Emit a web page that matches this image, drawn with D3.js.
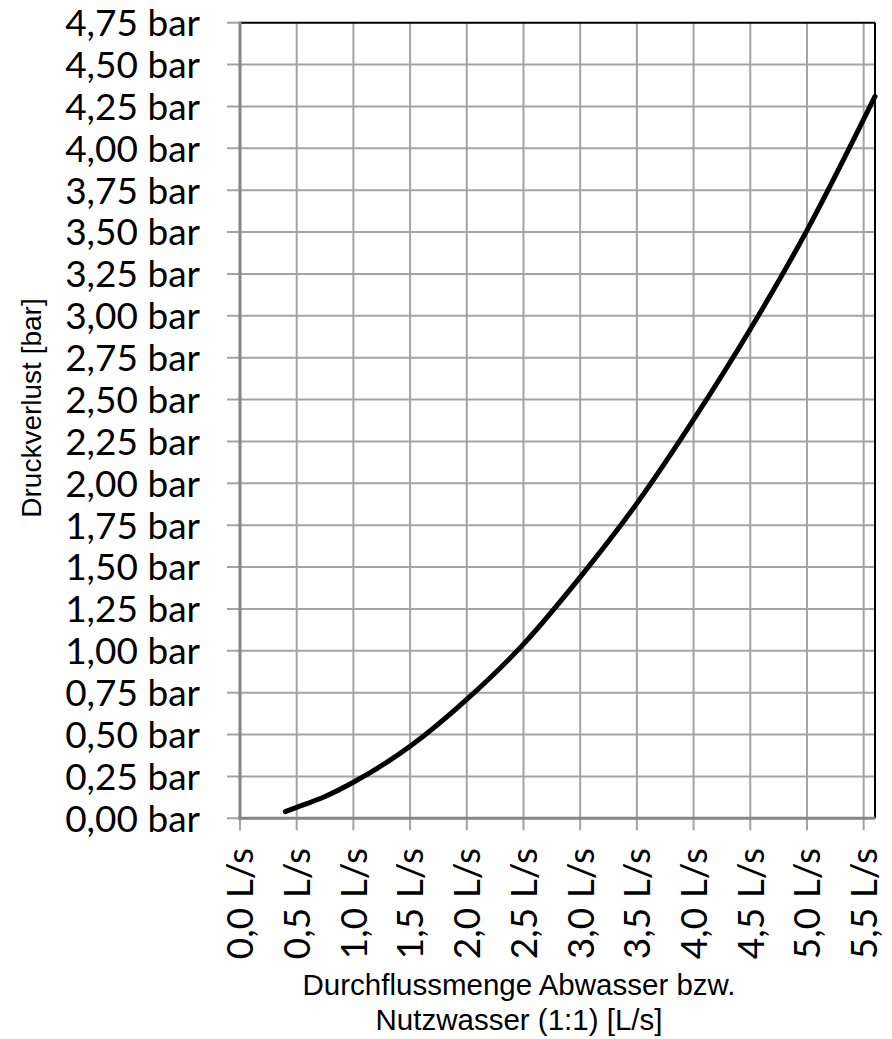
<!DOCTYPE html>
<html>
<head>
<meta charset="utf-8">
<script src="https://cdn.jsdelivr.net/npm/d3@7"></script>
<style>
  html, body { margin: 0; padding: 0; background: #fff; }
  svg { display: block; }
  .tick-label { font-family: Lato, "Open Sans", sans-serif; font-size: 37px; fill: #000; }
  .axis-title { font-family: "Liberation Sans", Arial, Helvetica, sans-serif; fill: #000; }
</style>
</head>
<body>
<svg id="chart" width="892" height="1039"></svg>
<script>
// Data
const flowValues = [0.4, 0.5, 0.75, 1.0, 1.5, 2.0, 2.5, 3.0, 3.5, 4.0, 4.5, 5.0, 5.6];
const pressureValues = [0.04, 0.065, 0.13, 0.215, 0.43, 0.71, 1.04, 1.44, 1.88, 2.38, 2.92, 3.51, 4.31];
const xTicks = [0.0, 0.5, 1.0, 1.5, 2.0, 2.5, 3.0, 3.5, 4.0, 4.5, 5.0, 5.5];
const yTicks = [0, 0.25, 0.5, 0.75, 1.0, 1.25, 1.5, 1.75, 2.0, 2.25, 2.5, 2.75, 3.0, 3.25, 3.5, 3.75, 4.0, 4.25, 4.5, 4.75];
const xTitleLines = ["Durchflussmenge Abwasser bzw.", "Nutzwasser (1:1) [L/s]"];
const yTitle = "Druckverlust [bar]";

(function () {
const svg = d3.select("#chart");
const pL = 240, pR = 875, pT = 22.7, pB = 818.3;

const x = d3.scaleLinear().domain([0, 5.6]).range([pL, pR]);
const y = d3.scaleLinear().domain([0, 4.75]).range([pB, pT]);

const loc = d3.formatLocale({decimal: ",", thousands: ".", grouping: [3], currency: ["", " €"]});
const fy = loc.format(".2f");
const fx = loc.format(".1f");

const gridCol = "#a3a3a3";

// Grid lines
svg.append("g").selectAll("line").data(xTicks.filter(d => d > 0)).join("line")
  .attr("x1", d => x(d)).attr("x2", d => x(d))
  .attr("y1", pT).attr("y2", pB + 12)
  .attr("stroke", gridCol).attr("stroke-width", 2);
svg.append("g").selectAll("line").data(yTicks.filter(d => d > 0 && d < 4.75)).join("line")
  .attr("x1", pL - 13).attr("x2", pR)
  .attr("y1", d => y(d)).attr("y2", d => y(d))
  .attr("stroke", gridCol).attr("stroke-width", 2);

// Tick marks at axis ends
svg.append("line").attr("x1", pL - 13).attr("x2", pL).attr("y1", y(4.75)).attr("y2", y(4.75))
  .attr("stroke", gridCol).attr("stroke-width", 2);
svg.append("line").attr("x1", pL - 13).attr("x2", pL).attr("y1", y(0)).attr("y2", y(0))
  .attr("stroke", gridCol).attr("stroke-width", 2);
svg.append("line").attr("x1", x(0)).attr("x2", x(0)).attr("y1", pB).attr("y2", pB + 12)
  .attr("stroke", gridCol).attr("stroke-width", 2);

// Top & right border (black)
svg.append("line").attr("x1", pL).attr("x2", pR).attr("y1", pT).attr("y2", pT)
  .attr("stroke", "#000").attr("stroke-width", 2);
svg.append("line").attr("x1", pR).attr("x2", pR).attr("y1", pT).attr("y2", pB)
  .attr("stroke", "#000").attr("stroke-width", 2);

// Left & bottom axis lines (grey, thicker)
svg.append("line").attr("x1", pL).attr("x2", pL).attr("y1", pT - 1).attr("y2", pB + 1.5)
  .attr("stroke", "#868686").attr("stroke-width", 3);
svg.append("line").attr("x1", pL - 1.5).attr("x2", pR).attr("y1", pB).attr("y2", pB)
  .attr("stroke", "#868686").attr("stroke-width", 3);

// Y tick labels
svg.append("g").selectAll("text").data(yTicks).join("text")
  .attr("class", "tick-label")
  .attr("x", 200).attr("y", d => y(d)).attr("dy", "0.36em")
  .attr("text-anchor", "end")
  .text(d => fy(d) + " bar");

// X tick labels (rotated)
svg.append("g").selectAll("text").data(xTicks).join("text")
  .attr("class", "tick-label")
  .attr("transform", d => `translate(${x(d)},848) rotate(-90)`)
  .attr("dy", "0.36em")
  .attr("text-anchor", "end")
  .text(d => fx(d) + " L/s");

// Curve
const pts = flowValues.map((v, i) => [v, pressureValues[i]]);
svg.append("path").datum(pts)
  .attr("d", d3.line().x(d => x(d[0])).y(d => y(d[1])).curve(d3.curveMonotoneX))
  .attr("fill", "none").attr("stroke", "#000").attr("stroke-width", 5)
  .attr("stroke-linecap", "round");

// Axis titles
svg.append("text")
  .attr("class", "axis-title")
  .attr("transform", `translate(41,408) rotate(-90)`)
  .attr("text-anchor", "middle")
  .style("font-size", "28px")
  .text(yTitle);

svg.append("g").selectAll("text").data(xTitleLines).join("text")
  .attr("class", "axis-title")
  .attr("x", 519).attr("y", (d, i) => 995 + i * 35)
  .attr("text-anchor", "middle")
  .style("font-size", "29.5px")
  .text(d => d);
})();
</script>
</body>
</html>
